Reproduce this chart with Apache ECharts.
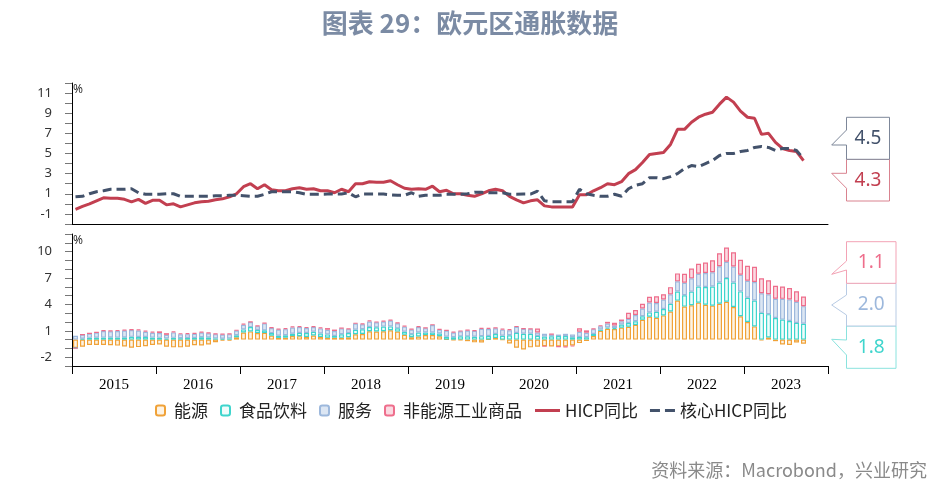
<!DOCTYPE html>
<html><head><meta charset="utf-8">
<script src="https://cdn.jsdelivr.net/npm/echarts@6/dist/echarts.min.js"></script>
<style>html,body{margin:0;padding:0;background:#fff}#c{width:940px;height:490px}</style>
</head><body><div id="c"></div>
<script>
// ---------- data ----------
const years = ['2015','2016','2017','2018','2019','2020','2021','2022','2023'];
const months = ['01','02','03','04','05','06','07','08','09','10','11','12'];
const yTopLabels = [11, 9, 7, 5, 3, 1, -1];
const yBottomLabels = [10, 7, 4, 1, -2];

// HICP yoy (%)
const hicp = [
 -0.55,-0.25,0.0,0.3,0.6,0.55,0.55,0.45,0.2,0.45,0.05,0.35,
 0.35,-0.1,0.0,-0.3,-0.1,0.1,0.2,0.25,0.4,0.5,0.7,1.0,
 1.7,2.0,1.5,1.9,1.4,1.3,1.3,1.5,1.6,1.45,1.5,1.3,
 1.3,1.1,1.45,1.2,2.0,2.0,2.2,2.15,2.15,2.3,1.9,1.55,
 1.45,1.5,1.45,1.75,1.2,1.35,1.0,1.0,0.85,0.75,1.0,1.3,
 1.45,1.3,0.75,0.4,0.1,0.3,0.4,-0.2,-0.3,-0.3,-0.3,-0.3,
 0.9,0.9,1.3,1.6,2.0,1.9,2.2,3.0,3.4,4.1,4.9,5.0,
 5.1,5.9,7.4,7.4,8.1,8.6,8.9,9.1,9.9,10.6,10.1,9.2,
 8.6,8.5,6.9,7.0,6.1,5.5,5.3,5.2,4.3
];
// core HICP yoy (%)
const core = [
 0.7,0.75,1.0,1.2,1.3,1.45,1.45,1.45,1.5,1.1,0.95,0.95,
 0.95,1.0,1.0,0.75,0.75,0.75,0.75,0.75,0.8,0.8,0.85,0.85,
 0.8,0.75,0.75,0.95,1.2,1.2,1.2,1.2,1.1,0.95,0.95,0.95,
 0.97,0.97,0.97,1.1,0.7,0.97,0.97,0.97,0.97,0.9,0.85,0.85,
 1.1,0.75,0.85,0.85,0.85,0.95,0.95,0.95,1.0,1.15,1.15,1.1,
 1.1,1.1,0.95,0.95,0.97,0.97,1.27,0.3,0.2,0.2,0.2,0.2,
 1.45,1.0,0.85,0.75,0.75,0.95,0.75,1.5,1.85,2.0,2.6,2.6,
 2.5,2.7,3.0,3.5,3.8,3.7,4.0,4.3,4.8,5.0,5.0,5.2,
 5.3,5.6,5.7,5.6,5.3,5.5,5.5,5.3,4.5
];
// contributions (pp)
const energy = [
 -0.95,-0.80,-0.62,-0.60,-0.62,-0.65,-0.68,-0.78,-0.92,-0.85,-0.75,-0.60,
 -0.55,-0.82,-0.88,-0.88,-0.82,-0.65,-0.67,-0.56,-0.30,-0.10,-0.10,0.26,
 0.81,0.93,0.74,0.76,0.45,0.19,0.22,0.40,0.39,0.30,0.47,0.29,
 0.22,0.21,0.20,0.26,0.61,0.64,0.95,0.92,0.95,1.07,0.91,0.55,
 0.27,0.36,0.53,0.53,0.38,0.02,-0.05,-0.06,-0.18,-0.31,-0.32,0.02,
 0.18,-0.03,-0.43,-0.92,-1.13,-0.88,-0.80,-0.74,-0.78,-0.79,-0.79,-0.66,
 -0.40,-0.16,0.41,0.99,1.24,1.20,1.36,1.46,1.67,2.25,2.61,2.47,
 2.75,3.20,4.43,3.75,3.91,4.20,3.96,3.86,4.07,4.30,3.70,2.65,
 2.00,1.50,-0.09,0.24,-0.18,-0.56,-0.61,-0.33,-0.46
];
const food = [
 0.00,0.10,0.20,0.21,0.23,0.25,0.23,0.25,0.31,0.29,0.29,0.23,
 0.20,0.12,0.20,0.16,0.18,0.18,0.27,0.25,0.14,0.10,0.14,0.23,
 0.35,0.49,0.35,0.29,0.29,0.25,0.27,0.27,0.37,0.45,0.43,0.41,
 0.37,0.20,0.41,0.49,0.51,0.53,0.49,0.47,0.53,0.43,0.37,0.35,
 0.35,0.45,0.29,0.29,0.31,0.31,0.27,0.37,0.37,0.33,0.39,0.39,
 0.46,0.44,0.50,0.76,0.67,0.67,0.42,0.36,0.38,0.40,0.40,0.27,
 0.30,0.28,0.24,0.15,0.13,0.11,0.35,0.43,0.41,0.41,0.48,0.69,
 0.72,0.86,1.03,1.29,1.54,1.82,2.01,2.17,2.42,2.69,2.79,2.83,
 2.76,2.94,3.04,2.65,2.45,2.27,2.12,1.90,1.80
];
const services = [
 0.44,0.46,0.50,0.60,0.75,0.70,0.75,0.78,0.78,0.75,0.60,0.55,
 0.55,0.42,0.62,0.44,0.44,0.48,0.53,0.48,0.48,0.48,0.48,0.53,
 0.53,0.57,0.44,0.79,0.57,0.70,0.70,0.70,0.66,0.57,0.53,0.57,
 0.53,0.57,0.66,0.44,0.70,0.57,0.62,0.57,0.57,0.66,0.57,0.57,
 0.53,0.62,0.48,0.84,0.44,0.70,0.53,0.57,0.66,0.66,0.84,0.79,
 0.65,0.69,0.56,0.69,0.56,0.52,0.39,0.30,0.22,0.17,0.26,0.30,
 0.59,0.50,0.54,0.38,0.46,0.29,0.38,0.46,0.71,0.88,1.13,1.00,
 1.08,1.08,1.16,1.42,1.51,1.46,1.59,1.63,1.85,1.85,1.81,1.89,
 1.92,2.10,2.23,2.27,2.19,2.36,2.45,2.40,2.00
];
const neig = [
 -0.03,0.00,0.00,0.03,0.08,0.08,0.11,0.11,0.08,0.13,0.13,0.13,
 0.19,0.19,0.13,0.13,0.13,0.11,0.11,0.08,0.08,0.08,0.08,0.08,
 0.13,0.05,0.08,0.08,0.08,0.11,0.13,0.13,0.13,0.11,0.11,0.13,
 0.19,0.16,0.05,0.08,0.08,0.11,0.13,0.08,0.11,0.11,0.08,0.11,
 0.08,0.11,0.05,0.05,0.08,0.05,0.11,0.08,0.08,0.08,0.11,0.13,
 0.08,0.13,0.13,0.08,0.05,0.05,0.45,-0.03,0.03,-0.03,-0.08,-0.13,
 0.40,0.27,0.08,0.11,0.19,0.32,0.19,0.69,0.56,0.53,0.64,0.77,
 0.61,0.82,0.90,1.01,1.11,1.14,1.19,1.35,1.46,1.62,1.62,1.70,
 1.72,1.74,1.69,1.59,1.48,1.41,1.28,1.20,1.10
];

// ---------- chart ----------
const categories = [];
years.forEach(y => months.forEach(m => categories.push(y + '-' + m)));
const last = a => a[a.length - 1].toFixed(1);

const CJK = '"Noto Sans CJK SC", "Noto Sans", sans-serif';
const C = {
  hicp: '#C23F50', core: '#43526B',
  energy: '#F0A238', energyFill: '#FDF3E4',
  food: '#3FD5CD', foodFill: '#F0FCFB',
  serv: '#9DB8DC', servFill: '#DCE6F3',
  neig: '#EE6E8C', neigFill: '#FADAE2'
};

function callout(x0, x1, y0, y1, p1, p2, tx, ty, stroke, color, text) {
  return [
    { type: 'polygon', z: 10,
      shape: { points: [[x0, y0], [x1, y0], [x1, y1], [x0, y1], [x0, p2], [tx, ty], [x0, p1]] },
      style: { fill: '#fff', stroke: stroke, lineWidth: 1 } },
    { type: 'text', z: 11, x: (x0 + x1) / 2, y: (y0 + y1) / 2,
      style: { text: text, fill: color, font: '19px "Noto Sans", sans-serif', textAlign: 'center', textVerticalAlign: 'middle' } }
  ];
}

const yLabelStyle = { color: '#333', fontSize: 13, fontFamily: '"Noto Sans", sans-serif', margin: 20 };

const option = {
  animation: false,
  backgroundColor: '#fff',
  title: [
    { text: '图表 29：欧元区通胀数据', left: 'center', top: 5,
      textStyle: { fontFamily: CJK, fontSize: 26, fontWeight: 'bold', color: '#7B8BA4' } },
    { text: '资料来源：Macrobond，兴业研究', right: 8, top: 456,
      textStyle: { fontFamily: CJK, fontSize: 18, fontWeight: 'normal', color: '#8A8A8A' } }
  ],
  legend: [
    { left: 150, top: 397, itemWidth: 9, itemHeight: 10, itemGap: 12,
      textStyle: { fontFamily: CJK, fontSize: 17, color: '#222', padding: [0, 0, 0, 4] },
      data: ['能源', '食品饮料', '服务', '非能源工业商品'] },
    { left: 530, top: 397, itemWidth: 25, itemHeight: 3, itemGap: 12,
      textStyle: { fontFamily: CJK, fontSize: 17, color: '#222' },
      data: [ { name: 'HICP同比', icon: 'rect' },
              { name: '核心HICP同比', icon: 'path://M0,0H10V3H0Z M15,0H25V3H15Z' } ] }
  ],
  grid: [
    { left: 72, width: 756, top: 83, height: 141 },
    { left: 72, width: 756, top: 234, height: 132 }
  ],
  xAxis: [
    { type: 'category', gridIndex: 0, data: categories, boundaryGap: true,
      axisLine: { onZero: false, lineStyle: { color: '#000', width: 1 } },
      axisTick: { show: false }, axisLabel: { show: false }, splitLine: { show: false } },
    { type: 'category', gridIndex: 1, data: categories, boundaryGap: true,
      axisLine: { onZero: false, lineStyle: { color: '#000', width: 1 } },
      axisTick: { show: true, length: 8, lineStyle: { color: '#000' }, interval: (i) => i % 12 === 0 },
      axisLabel: { interval: (i) => i % 12 === 5, formatter: v => v.slice(0, 4), padding: [0, 0, 0, 7],
        fontFamily: '"Liberation Serif", serif', fontSize: 15, color: '#000', margin: 12 },
      splitLine: { show: false } }
  ],
  yAxis: [
    { type: 'value', gridIndex: 0, min: -2, max: 12, interval: 1,
      axisLine: { show: true, lineStyle: { color: '#000' } },
      axisTick: { show: true, length: 7, lineStyle: { color: '#777' } },
      axisLabel: Object.assign({ formatter: v => yTopLabels.includes(v) ? String(v) : '' }, yLabelStyle),
      splitLine: { show: false } },
    { type: 'value', gridIndex: 1, min: -3, max: 12, interval: 1,
      axisLine: { show: true, lineStyle: { color: '#000' } },
      axisTick: { show: true, length: 7, lineStyle: { color: '#777' } },
      axisLabel: Object.assign({ formatter: v => yBottomLabels.includes(v) ? String(v) : '' }, yLabelStyle),
      splitLine: { show: false } }
  ],
  series: [
    { name: '能源', type: 'bar', stack: 'c', xAxisIndex: 1, yAxisIndex: 1, barWidth: 5, data: energy,
      itemStyle: { color: C.energyFill, borderColor: C.energy, borderWidth: 1.2 } },
    { name: '食品饮料', type: 'bar', stack: 'c', xAxisIndex: 1, yAxisIndex: 1, barWidth: 5, data: food,
      itemStyle: { color: C.foodFill, borderColor: C.food, borderWidth: 1.2 } },
    { name: '服务', type: 'bar', stack: 'c', xAxisIndex: 1, yAxisIndex: 1, barWidth: 5, data: services,
      itemStyle: { color: C.servFill, borderColor: C.serv, borderWidth: 1.2 } },
    { name: '非能源工业商品', type: 'bar', stack: 'c', xAxisIndex: 1, yAxisIndex: 1, barWidth: 5, data: neig,
      itemStyle: { color: C.neigFill, borderColor: C.neig, borderWidth: 1.2 } },
    { name: 'HICP同比', type: 'line', xAxisIndex: 0, yAxisIndex: 0, data: hicp, symbol: 'none',
      lineStyle: { color: C.hicp, width: 3 }, itemStyle: { color: C.hicp } },
    { name: '核心HICP同比', type: 'line', xAxisIndex: 0, yAxisIndex: 0, data: core, symbol: 'none',
      lineStyle: { color: C.core, width: 3, type: [9, 5] }, itemStyle: { color: C.core } }
  ],
  graphic: [
    { type: 'text', x: 73, y: 84, style: { text: '%', fill: '#333', font: '12px "Noto Sans", sans-serif', textAlign: 'left', textVerticalAlign: 'top' } },
    { type: 'text', x: 73, y: 235, style: { text: '%', fill: '#333', font: '12px "Noto Sans", sans-serif', textAlign: 'left', textVerticalAlign: 'top' } }
  ]
    .concat(callout(846.5, 889.5, 159.3, 201, 173.3, 188.3, 831.7, 173.3, '#D9828F', C.hicp, last(hicp)))
    .concat(callout(846.5, 889.5, 117.3, 159.3, 130, 145, 831.7, 145, '#7D8799', C.core, last(core)))
    .concat(callout(846.5, 896, 326, 368.3, 340, 355, 831.7, 339.3, '#8AE3DE', C.food, last(food)))
    .concat(callout(846.5, 896, 283.3, 326, 295, 315, 831.7, 305, '#B8CBE4', C.serv, last(services)))
    .concat(callout(846.5, 896, 241.7, 283.3, 261, 270, 831.7, 274.3, '#F3A3B5', C.neig, last(neig)))
};

const chart = echarts.init(document.getElementById('c'), null, { renderer: 'canvas' });
chart.setOption(option);
</script>
</body></html>
